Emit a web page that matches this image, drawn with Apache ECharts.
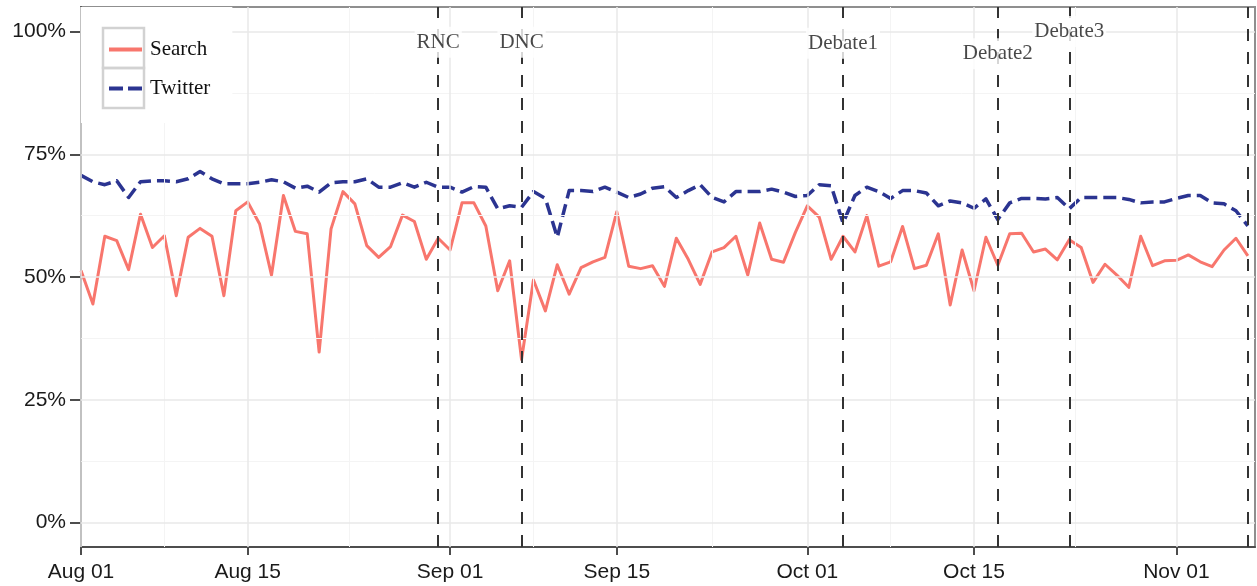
<!DOCTYPE html>
<html>
<head>
<meta charset="utf-8">
<script src="https://cdn.jsdelivr.net/npm/echarts@6/dist/echarts.min.js"></script>
<style>
html,body{margin:0;padding:0;background:#fff;}
#chart{width:1257px;height:586px;}
</style>
</head>
<body>
<div id="chart"></div>
<script>
// Day offsets from 2012-08-01 (Aug 01 = day 0)
const tickDays = [0, 14, 31, 45, 61, 75, 92];
const tickLabels = ['Aug 01', 'Aug 15', 'Sep 01', 'Sep 15', 'Oct 01', 'Oct 15', 'Nov 01'];
const minorDays = [7, 22.5, 38, 53, 68, 83.5];
const yTicks = [0, 25, 50, 75, 100];
const yMinor = [12.5, 37.5, 62.5, 87.5];

const searchValues = [
  51.3,44.5,58.3,57.4,51.5,62.8,56.0,58.4,46.2,58.1,
  59.9,58.3,46.2,63.5,65.3,60.8,50.4,66.6,59.3,58.8,
  34.7,59.8,67.4,64.9,56.4,54.0,56.2,62.6,61.3,53.6,
  57.9,55.5,65.1,65.1,60.4,47.2,53.3,33.2,49.4,43.1,
  52.5,46.5,51.9,53.1,54.0,63.3,52.2,51.7,52.3,48.1,
  57.9,53.6,48.5,55.1,56.0,58.3,50.4,61.0,53.6,53.0,
  59.1,64.5,62.2,53.6,58.3,55.1,62.5,52.2,53.1,60.3,
  51.7,52.4,58.8,44.3,55.5,47.2,58.1,52.4,58.8,58.9,
  55.1,55.7,53.5,57.6,56.0,48.9,52.6,50.4,47.9,58.3,
  52.3,53.3,53.4,54.5,53.1,52.1,55.5,57.9,54.3
];
const twitterValues = [
  70.7,69.4,68.8,69.6,66.2,69.4,69.6,69.6,69.4,70.0,
  71.5,70.0,69.0,69.0,69.0,69.3,69.8,69.4,68.1,68.5,
  67.3,69.2,69.4,69.4,70.0,68.3,68.3,69.2,68.3,69.3,
  68.3,68.3,67.3,68.4,68.3,63.9,64.5,64.2,67.4,66.0,
  58.1,67.6,67.6,67.4,68.3,67.3,66.2,66.9,68.1,68.4,
  66.2,67.6,68.8,66.2,65.3,67.4,67.4,67.4,67.9,67.3,
  66.4,66.6,68.8,68.6,61.0,66.6,68.3,67.4,66.0,67.6,
  67.6,67.1,64.5,65.5,65.1,64.0,65.9,61.7,65.1,66.0,
  66.0,65.9,66.2,63.9,66.2,66.2,66.2,66.2,65.8,65.1,
  65.3,65.3,66.0,66.6,66.6,65.1,64.9,63.5,60.4
];

// Event lines (day offsets) and their annotation labels
const eventDays = [30, 37, 64, 77, 83, 98];
const eventNames = ['RNC', 'DNC', 'Debate1', 'Debate2', 'Debate3', ''];
const eventLabelY = [97.8, 97.8, 97.6, 95.5, 100.0, null];

const searchData = searchValues.map((v, i) => [i, v]);
const twitterData = twitterValues.map((v, i) => [i, v]);
const eventLabelData = eventDays
  .map((d, i) => [d, eventLabelY[i], eventNames[i]])
  .filter(p => p[2] !== '');

const chart = echarts.init(document.getElementById('chart'), null, {renderer: 'canvas'});

const axisColor = '#4d4d4d';
const gridMajor = {color: '#e8e8e8', width: 1.5, type: 'solid'};
const gridMinor = {color: '#f4f4f4', width: 1, type: 'solid'};

const option = {
  animation: false,
  backgroundColor: '#fff',
  grid: {
    left: 81, top: 7, right: 2, bottom: 39,
    show: true, borderColor: '#8f8f8f', borderWidth: 2, backgroundColor: '#fff'
  },
  xAxis: {
    type: 'value',
    min: 0,
    max: 98.6,
    axisLine: {show: true, onZero: false, lineStyle: {color: axisColor, width: 2}},
    axisTick: {show: true, customValues: tickDays, length: 8, lineStyle: {color: axisColor, width: 2}},
    axisLabel: {
      show: true, customValues: tickDays, margin: 15,
      fontFamily: 'Liberation Sans', fontSize: 21, color: '#1a1a1a',
      formatter: v => tickLabels[tickDays.indexOf(v)] || ''
    },
    splitLine: {show: false}
  },
  yAxis: {
    type: 'value',
    min: -5,
    max: 105,
    axisLine: {show: true, onZero: false, lineStyle: {color: axisColor, width: 2}},
    axisTick: {show: true, customValues: yTicks, length: 11, lineStyle: {color: axisColor, width: 2}},
    axisLabel: {
      show: true, customValues: yTicks, margin: 15,
      fontFamily: 'Liberation Sans', fontSize: 21, color: '#1a1a1a',
      formatter: v => v + '%'
    },
    splitLine: {show: false}
  },
  legend: {
    orient: 'vertical',
    left: 81, top: 7,
    backgroundColor: '#fff',
    padding: [32, 22, 24, 26],
    itemWidth: 33, itemHeight: 24, itemGap: 18,
    z: 6,
    itemStyle: {opacity: 0},
    lineStyle: {width: 4},
    textStyle: {fontFamily: 'Liberation Serif', fontSize: 21, color: '#111', padding: [0, 0, 0, 3]},
    data: [
      {name: 'Search', lineStyle: {width: 4, type: 'solid'}},
      {name: 'Twitter', lineStyle: {width: 4, type: [14, 5]}}
    ]
  },
  graphic: [
    {type: 'rect', z: 20, shape: {x: 103, y: 28, width: 41, height: 40},
     style: {fill: 'none', stroke: '#d2d2d2', lineWidth: 2.5}},
    {type: 'rect', z: 20, shape: {x: 103, y: 68, width: 41, height: 40},
     style: {fill: 'none', stroke: '#d2d2d2', lineWidth: 2.5}}
  ],
  series: [
    {
      name: 'grid', type: 'line', data: [], z: 1, silent: true,
      markLine: {
        silent: true, symbol: ['none', 'none'], label: {show: false}, animation: false,
        data: [
          ...yMinor.map(v => ({yAxis: v, lineStyle: gridMinor})),
          ...minorDays.map(v => ({xAxis: v, lineStyle: gridMinor})),
          ...yTicks.map(v => ({yAxis: v, lineStyle: gridMajor})),
          ...tickDays.map(v => ({xAxis: v, lineStyle: gridMajor}))
        ]
      }
    },
    {
      name: 'Search', type: 'line', data: searchData, z: 3,
      showSymbol: false, symbol: 'none',
      lineStyle: {color: '#F8766D', width: 3, join: 'round'},
      itemStyle: {color: '#F8766D'}
    },
    {
      name: 'Twitter', type: 'line', data: twitterData, z: 3,
      showSymbol: false, symbol: 'none',
      lineStyle: {color: '#2b3491', width: 3.5, type: [13, 6], join: 'round'},
      itemStyle: {color: '#2b3491'}
    },
    {
      name: 'events', type: 'line', data: [], z: 4, silent: true,
      markLine: {
        silent: true, symbol: ['none', 'none'], label: {show: false}, animation: false,
        lineStyle: {color: '#333', width: 2, type: [12, 11]},
        data: eventDays.map(d => ({xAxis: d}))
      }
    },
    {
      name: 'eventLabels', type: 'scatter', data: eventLabelData, z: 5, silent: true,
      symbolSize: 1, itemStyle: {color: 'rgba(0,0,0,0)'},
      label: {
        show: true, position: 'inside',
        formatter: p => p.value[2],
        fontFamily: 'Liberation Serif', fontSize: 21, color: '#1a1a1a',
        backgroundColor: '#fff', padding: [5, 2]
      }
    }
  ]
};
chart.setOption(option);
</script>
</body>
</html>
